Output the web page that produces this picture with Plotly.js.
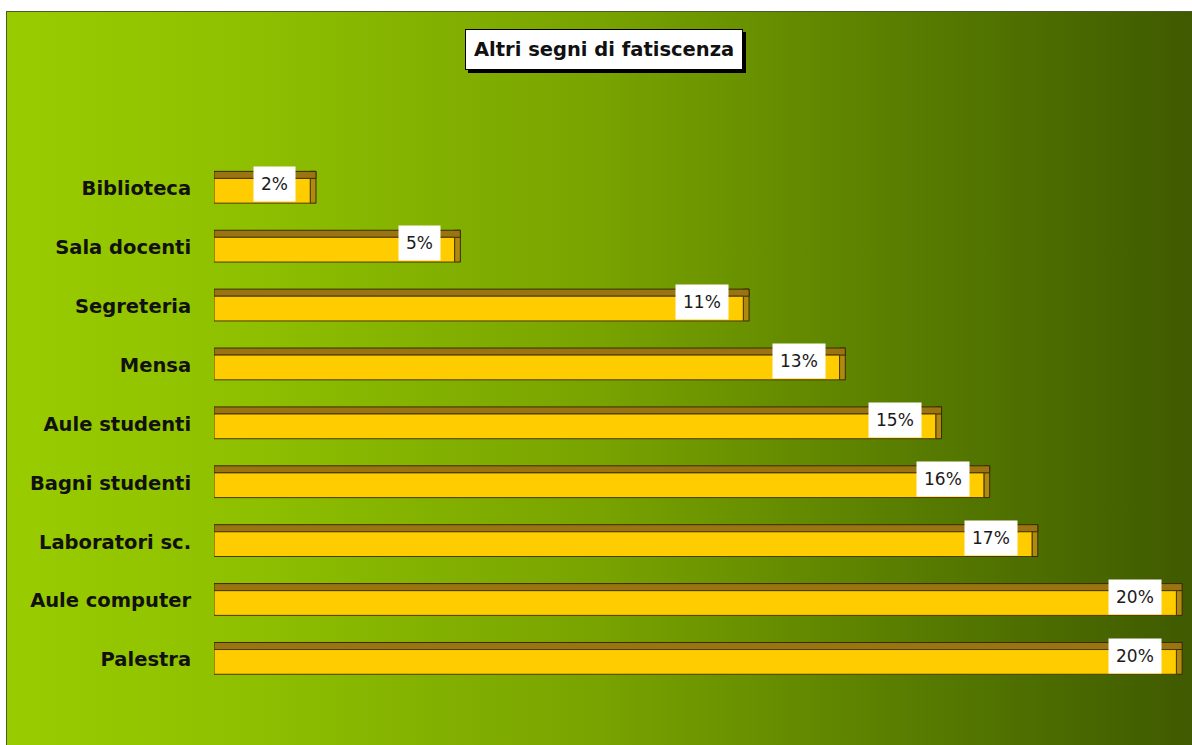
<!DOCTYPE html>
<html><head><meta charset="utf-8">
<script src="https://cdn.plot.ly/plotly-3.0.1.min.js"></script>
<style>
html,body{margin:0;padding:0;background:#fff;width:1192px;height:745px;overflow:hidden;}
#chart{position:absolute;left:6px;top:11px;width:1186px;height:734px;
background:linear-gradient(to right,#99cc00 0%,#8fc000 20%,#78a300 50%,#567a00 78%,#3f5a00 100%);
border-left:1px solid #4a5a2a;border-top:1px solid #4a5a2a;box-sizing:border-box;}
</style></head>
<body><div id="chart"></div>
<script>
const categories = ["Palestra","Aule computer","Laboratori sc.","Bagni studenti","Aule studenti","Mensa","Segreteria","Sala docenti","Biblioteca"];
const values = [20,20,17,16,15,13,11,5,2];
const valueLabels = ["20%","20%","17%","16%","15%","13%","11%","5%","2%"];
const chartTitle = "Altri segni di fatiscenza";

const FONT = 'DejaVu Sans, Verdana, sans-serif';
const frontW = 0.42, topW = 0.12, depth = 0.12;
const front = {type:'bar',orientation:'h',y:categories,x:values,width:frontW,offset:-frontW/2-0.04,
  marker:{color:'#ffcc00',line:{color:'#4a3a00',width:1}},hoverinfo:'skip'};
const topFace = {type:'bar',orientation:'h',y:categories,x:values.map(v=>v+depth),width:topW,offset:frontW/2-0.04,
  marker:{color:'#9a7410',line:{color:'#3a2c00',width:1}},hoverinfo:'skip'};
const side = {type:'bar',orientation:'h',y:categories,base:values,x:values.map(()=>depth),width:frontW+topW,offset:-frontW/2-0.04,
  marker:{color:'#b08a10',line:{color:'#3a2c00',width:1}},hoverinfo:'skip'};

const annotations = values.map((v,i)=>({x:v,y:categories[i],xref:'x',yref:'y',text:valueLabels[i],
  showarrow:false,xanchor:'right',xshift:-14,yshift:4,bgcolor:'#ffffff',borderpad:7,
  font:{family:FONT,size:17,color:'#1a1a1a'}}));
annotations.push({xref:'paper',yref:'paper',x:0.401,y:1 + (147-37)/530,yanchor:'middle',xanchor:'center',
  text:'<b>'+chartTitle+'</b>',showarrow:false,bgcolor:'#fff',bordercolor:'#000',borderwidth:1,borderpad:8,
  font:{family:FONT,size:19.5,color:'#111'}});

const layout = {
  width:1186,height:734,paper_bgcolor:'rgba(0,0,0,0)',plot_bgcolor:'rgba(0,0,0,0)',
  margin:{l:207,r:7,t:147,b:57},barmode:'overlay',showlegend:false,
  xaxis:{range:[0,20.2],visible:false,fixedrange:true},
  yaxis:{type:'category',range:[-0.5,8.5],showgrid:false,zeroline:false,showline:false,
    ticks:'outside',ticklen:18,tickcolor:'rgba(0,0,0,0)',
    tickfont:{family:FONT,size:19.5,color:'#111',weight:'bold'}},
  annotations:annotations
};
Plotly.newPlot('chart',[side,topFace,front],layout,{displayModeBar:false,staticPlot:true}).then(()=>{
  const anns = document.querySelectorAll('#chart .annotation');
  const last = anns[anns.length-1];
  const bg = last && last.querySelector('rect.bg');
  if (bg) bg.style.filter = 'drop-shadow(3px 3px 0px #000)';
});
</script></body></html>
